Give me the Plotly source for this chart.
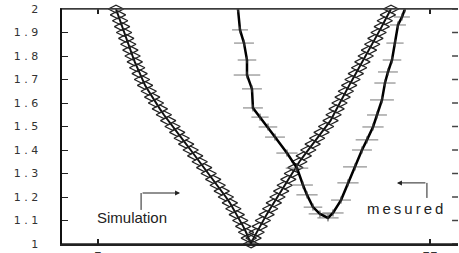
import plotly.graph_objects as go

# ---------------- data ----------------
sim_left_x = [7.71, 8.01, 8.33, 8.63, 8.93, 9.25, 9.56, 9.88, 10.21, 10.54,
              10.90, 11.27, 11.63, 12.09, 12.64, 13.16, 13.73, 14.32, 14.92, 15.57,
              16.23, 16.93, 17.61, 18.28, 18.96, 19.64, 20.32, 20.99, 21.67, 22.35,
              23.03, 23.64, 24.26, 24.86, 25.39, 25.90, 26.43, 26.87, 27.30, 27.71, 28.04]
sim_left_y = [2.000, 1.975, 1.950, 1.925, 1.900, 1.875, 1.850, 1.825, 1.800, 1.775,
              1.750, 1.725, 1.700, 1.675, 1.650, 1.625, 1.600, 1.575, 1.550, 1.525,
              1.500, 1.475, 1.450, 1.425, 1.400, 1.375, 1.350, 1.325, 1.300, 1.275,
              1.250, 1.225, 1.200, 1.175, 1.150, 1.125, 1.100, 1.075, 1.050, 1.025, 1.000]
sim_right_x = [28.43, 28.89, 29.35, 29.83, 30.39, 30.93, 31.48, 32.03, 32.59, 33.12,
               33.66, 34.20, 34.73, 35.33, 35.99, 36.67, 37.33, 38.00, 38.67, 39.35,
               40.02, 40.48, 40.93, 41.37, 41.84, 42.33, 42.83, 43.33, 43.83, 44.32,
               44.82, 45.32, 45.81, 46.30, 46.78, 47.26, 47.74, 48.19, 48.66, 49.13]
sim_right_y = [1.025, 1.050, 1.075, 1.100, 1.125, 1.150, 1.175, 1.200, 1.225, 1.250,
               1.275, 1.300, 1.325, 1.350, 1.375, 1.400, 1.425, 1.450, 1.475, 1.500,
               1.525, 1.550, 1.575, 1.600, 1.625, 1.650, 1.675, 1.700, 1.725, 1.750,
               1.775, 1.800, 1.825, 1.850, 1.875, 1.900, 1.925, 1.950, 1.975, 2.000]

meas_x = [26.08, 26.39, 26.99, 27.44, 27.44, 28.19, 28.34, 29.40, 30.60, 31.66,
          33.46, 34.97, 35.87, 36.48, 37.38, 38.43, 39.64,
          40.39, 41.60, 42.65, 43.71, 44.76, 45.51, 46.42, 47.02, 47.77, 48.22,
          48.67, 49.28, 49.73, 50.18, 50.78, 51.23]
meas_y = [2.000, 1.911, 1.855, 1.783, 1.719, 1.660, 1.579, 1.540, 1.498, 1.455,
          1.387, 1.323, 1.251, 1.209, 1.157, 1.128, 1.111,
          1.132, 1.187, 1.260, 1.328, 1.400, 1.443, 1.498, 1.549, 1.613, 1.685,
          1.732, 1.783, 1.855, 1.932, 1.966, 2.000]
meas_err = [0.0, 1.2, 1.5, 1.4, 2.0, 1.5, 1.5, 1.3, 1.4, 1.5,
            1.6, 1.7, 1.5, 1.6, 1.4, 1.7, 1.6,
            1.6, 1.5, 1.6, 1.8, 1.5, 1.7, 1.6, 1.5, 1.8, 1.6,
            1.5, 1.4, 1.3, 1.2, 1.2, 0.0]

y_ticks = [1.0, 1.1, 1.2, 1.3, 1.4, 1.5, 1.6, 1.7, 1.8, 1.9, 2.0]
y_tick_text = ["1", "1 . 1", "1 . 2", "1 . 3", "1 . 4", "1 . 5",
               "1 . 6", "1 . 7", "1 . 8", "1 . 9", "2"]
x_ticks = [5, 55]
x_tick_text = ["5", "55"]

# ---------------- figure ----------------
fig = go.Figure()

sim_x = sim_left_x + sim_right_x
sim_y = sim_left_y + sim_right_y

fig.add_trace(go.Scatter(
    x=sim_x, y=sim_y, mode="lines+markers",
    line=dict(color="#111111", width=2),
    marker=dict(symbol="diamond-wide-open", size=11, color="#222222",
                line=dict(color="#222222", width=1.2)),
    cliponaxis=False, showlegend=False, hoverinfo="skip"))

fig.add_trace(go.Scatter(
    x=meas_x, y=meas_y, mode="lines+markers",
    line=dict(color="#000000", width=2.5),
    marker=dict(symbol="line-ns-open", size=5, color="#444444",
                line=dict(color="#444444", width=1)),
    error_x=dict(type="data", array=meas_err, color="#777777",
                 thickness=1, width=0),
    showlegend=False, hoverinfo="skip"))

# right-hand tick marks (no axis line on that side)
for yt in y_ticks:
    fig.add_shape(type="line", xref="paper", yref="y", x0=0.985, x1=1.0,
                  y0=yt, y1=yt, line=dict(color="#444444", width=1.5))

# frame lines top and bottom
fig.add_shape(type="line", xref="paper", yref="paper", x0=0, x1=1, y0=1, y1=1,
              line=dict(color="#444444", width=1.5))
fig.add_shape(type="line", xref="paper", yref="paper", x0=0, x1=1, y0=0, y1=0,
              line=dict(color="#222222", width=1.5))

# annotation labels
fig.add_annotation(x=10.14, y=1.111, text="Simulation", showarrow=False,
                   font=dict(family="Liberation Sans", size=15, color="#222222"))
fig.add_annotation(x=51.23, y=1.149,
                   text="m\u2009e\u2009s\u2009u\u2009r\u2009e\u2009d",
                   showarrow=False,
                   font=dict(family="Liberation Sans", size=15, color="#222222"))

# bent arrows
fig.add_shape(type="line", x0=11.49, y0=1.145, x1=11.49, y1=1.217,
              line=dict(color="#222222", width=1))
fig.add_annotation(x=17.36, y=1.217, ax=11.49, ay=1.217,
                   axref="x", ayref="y", text="", showarrow=True,
                   arrowhead=2, arrowsize=1, arrowwidth=1, arrowcolor="#222222")
fig.add_shape(type="line", x0=54.54, y0=1.196, x1=54.54, y1=1.26,
              line=dict(color="#222222", width=1))
fig.add_annotation(x=50.02, y=1.26, ax=54.54, ay=1.26,
                   axref="x", ayref="y", text="", showarrow=True,
                   arrowhead=2, arrowsize=1, arrowwidth=1, arrowcolor="#222222")

fig.update_layout(
    width=459, height=253,
    margin=dict(l=62, r=1, t=9, b=9, autoexpand=False),
    paper_bgcolor="white", plot_bgcolor="white",
    xaxis=dict(range=[-0.42, 59.22], tickvals=x_ticks, ticktext=x_tick_text,
               ticks="inside", ticklen=5, tickwidth=1.5, tickcolor="#222222",
               showline=True, linecolor="#222222", linewidth=1.5,
               mirror="ticks", showgrid=False, zeroline=False,
               tickfont=dict(family="Liberation Sans", size=14, color="#333333")),
    yaxis=dict(range=[1, 2], tickvals=y_ticks, ticktext=y_tick_text,
               ticks="inside", ticklen=6, tickcolor="#222222",
               showline=True, linecolor="#111111", linewidth=2.5,
               showgrid=False, zeroline=False, ticklabelstandoff=19,
               tickfont=dict(family="DejaVu Sans", size=11, color="#333333")),
)

fig.write_html(
    "out.html",
    config={"displayModeBar": False, "staticPlot": True},
    post_script="document.body.style.margin='0';document.body.style.overflow='hidden';",
)
